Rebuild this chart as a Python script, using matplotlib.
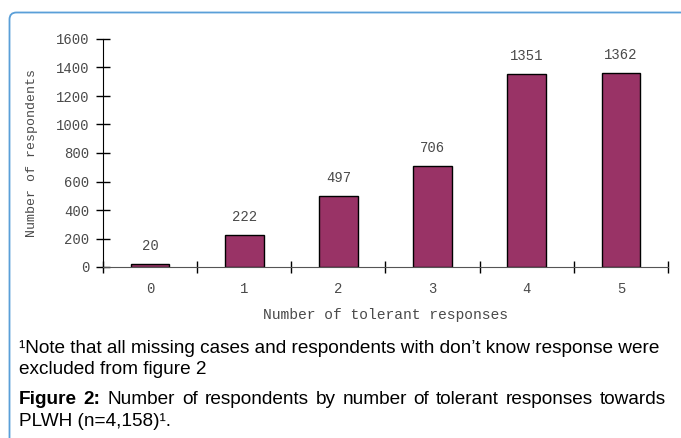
import matplotlib
matplotlib.use("Agg")
import matplotlib.pyplot as plt
import matplotlib.patches as mpatches
from matplotlib.transforms import IdentityTransform

# data
responses = ["0", "1", "2", "3", "4", "5"]
respondents = [20, 222, 497, 706, 1351, 1362]
y_ticks = [0, 200, 400, 600, 800, 1000, 1200, 1400, 1600]

note_line1 = "\u00b9Note that all missing cases and respondents with don\u2019t know response were"
note_line2 = "excluded from figure 2"
caption_bold = "Figure 2:"
caption_line1 = "Number of respondents by number of tolerant responses towards"
caption_line2 = "PLWH (n=4,158)\u00b9."

W, H = 681, 438
fig = plt.figure(figsize=(W / 100, H / 100), dpi=100)

mono = "Liberation Mono"
grey = "#4a4a4a"
bar_color = "#993366"

ax = fig.add_axes([103 / W, 1 - 267 / H, (668 - 103) / W, (267 - 39) / H])
x = list(range(len(responses)))
bars = ax.bar(x, respondents, width=0.41, color=bar_color, edgecolor="black", linewidth=1)
ax.bar_label(bars, labels=[str(v) for v in respondents], padding=8,
             fontfamily=mono, fontsize=10, color=grey)

ax.set_xlim(-0.5, len(responses) - 0.5)
ax.set_ylim(0, 1600)
ax.set_yticks(y_ticks)
ax.set_yticklabels([str(v) for v in y_ticks], fontfamily=mono, fontsize=10, color=grey)

# tick marks between the categories, labels at the bar centres
ax.set_xticks([i - 0.5 for i in range(len(responses) + 1)])
ax.set_xticklabels([])
ax.set_xticks(x, minor=True)
ax.set_xticklabels(responses, minor=True, fontfamily=mono, fontsize=10, color=grey)
ax.tick_params(axis="x", which="major", direction="inout", length=8, width=1, color="black")
ax.tick_params(axis="x", which="minor", length=0, pad=11)
ax.tick_params(axis="y", direction="inout", length=10, width=1, color="black", pad=5)

for side in ["top", "right"]:
    ax.spines[side].set_visible(False)
ax.spines["left"].set_color("black")
ax.spines["bottom"].set_color("#555555")

ax.set_xlabel("Number of tolerant responses", fontfamily=mono, fontsize=10.5, color=grey)
ax.xaxis.set_label_coords(0.5, -0.18)
ax.set_ylabel("Number of respondents", fontfamily=mono, fontsize=9.5, color=grey)
ax.yaxis.set_label_coords(-0.115, 0.5)

# caption below the chart, text runs from x=19 to x=666 px
sans = "Liberation Sans"
x0, x1 = 19, 666
renderer = fig.canvas.get_renderer()

t1 = fig.text(x0 / W, 1 - 353 / H, note_line1, fontfamily=sans, fontsize=12, va="baseline")
size = 12 * (x1 - x0) / t1.get_window_extent(renderer).width
t1.set_fontsize(size)
fig.text(x0 / W, 1 - 374 / H, note_line2, fontfamily=sans, fontsize=size, va="baseline")

# justified caption line
words = [(w, "bold") for w in caption_bold.split()] + \
        [(w, "normal") for w in caption_line1.split()]
items = []
for w, weight in words:
    t = fig.text(0, 1 - 404 / H, w, fontfamily=sans, fontsize=size,
                 fontweight=weight, va="baseline")
    items.append((t, t.get_window_extent(renderer).width))
gap = (x1 - x0 - sum(wd for _, wd in items)) / (len(items) - 1)
pos = x0
for t, wd in items:
    t.set_x(pos / W)
    pos += wd + gap

fig.text(x0 / W, 1 - 426 / H, caption_line2, fontfamily=sans, fontsize=size, va="baseline")

# rounded blue frame (only top and left edges fall inside the picture)
frame = mpatches.FancyBboxPatch((9.5, -40), 720, H - 12.5 + 40,
                                boxstyle="round,pad=0,rounding_size=7",
                                transform=IdentityTransform(), fill=False,
                                edgecolor="#5a9fd8", linewidth=1.3)
fig.add_artist(frame)

fig.savefig("out.png", dpi=100)
